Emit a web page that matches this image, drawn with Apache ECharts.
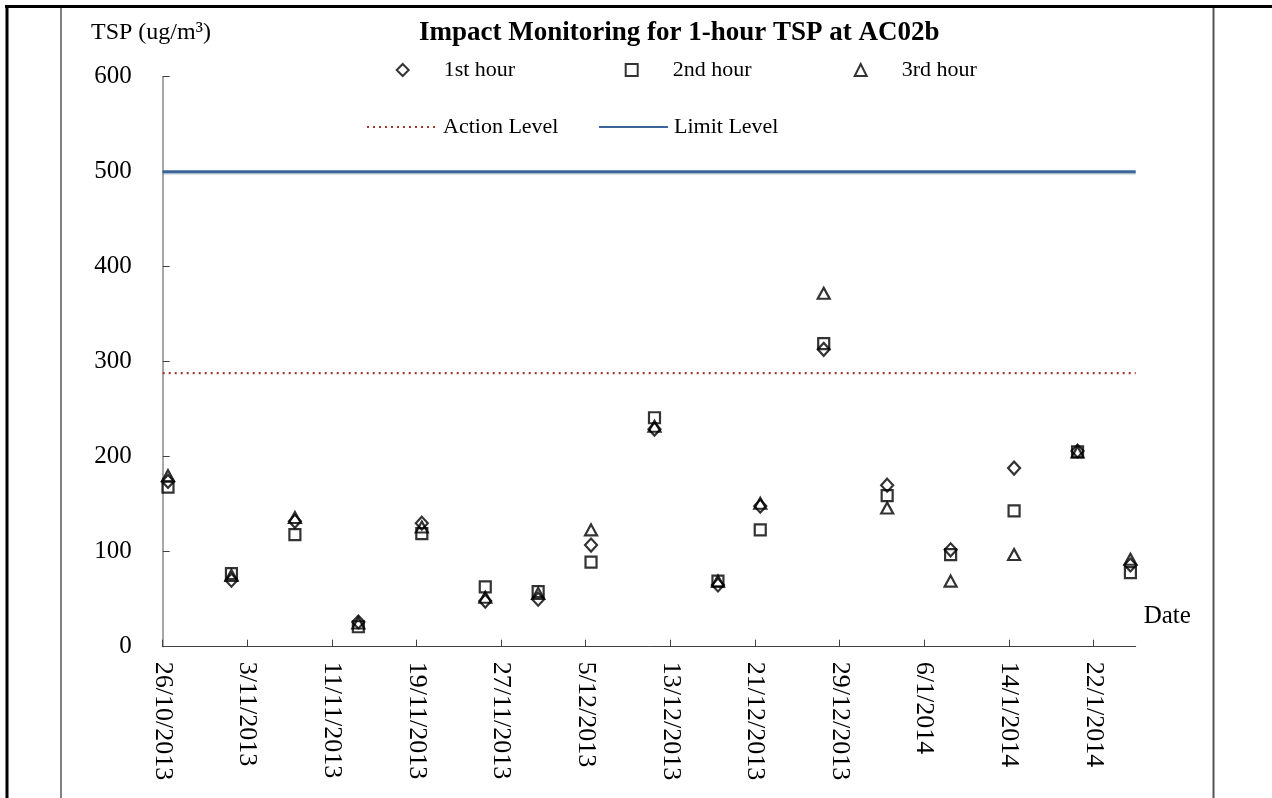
<!DOCTYPE html>
<html>
<head>
<meta charset="utf-8">
<script src="https://cdn.jsdelivr.net/npm/echarts@6/dist/echarts.min.js"></script>
<style>
html,body{margin:0;padding:0;background:#fff;}
#chart{width:1272px;height:798px;}
</style>
</head>
<body>
<div id="chart"></div>
<script>
// ---- data ----
const axisStartDate = '2013-10-26T00:00:00Z';
const axisEndDate = '2014-01-26T00:00:00Z';
const tickDates = ['2013-10-26','2013-11-03','2013-11-11','2013-11-19','2013-11-27','2013-12-05',
                   '2013-12-13','2013-12-21','2013-12-29','2014-01-06','2014-01-14','2014-01-22'];
const sampleDates = ['2013-10-26T12:00','2013-11-01T12:00','2013-11-07T12:00','2013-11-13T12:00',
                     '2013-11-19T12:00','2013-11-25T12:00','2013-11-30T12:00','2013-12-05T12:00',
                     '2013-12-11T12:00','2013-12-17T12:00','2013-12-21T12:00','2013-12-27T12:00',
                     '2014-01-02T12:00','2014-01-08T12:00','2014-01-14T12:00','2014-01-20T12:00',
                     '2014-01-25T12:00'];
const hour1 = [174, 70, 132, 26, 130, 48, 50, 107, 229, 65, 148, 313, 170, 102, 188, 206, 86];
const hour2 = [168, 77, 118, 21, 119, 63, 58, 89, 241, 69, 123, 319, 159, 97, 143, 205, 78];
const hour3 = [180, 75, 136, 25, 126, 52, 56, 123, 232, 69, 151, 372, 146, 69, 97, 205, 92];
const actionLevel = 288;
const limitLevel = 500;
const yTicks = [0, 100, 200, 300, 400, 500, 600];

// ---- helpers ----
const DAY = 86400000;
const t0 = Date.parse(axisStartDate);
const toDay = s => (Date.parse(s.length <= 10 ? s + 'T00:00:00Z' : s + (s.endsWith('Z') ? '' : ':00Z')) - t0) / DAY;
const xMax = toDay(axisEndDate);
const tickDays = tickDates.map(toDay);
const fmt = v => {
  const d = new Date(t0 + Math.round(v) * DAY);
  return d.getUTCDate() + '/' + (d.getUTCMonth() + 1) + '/' + d.getUTCFullYear();
};
const pts = arr => arr.map((v, i) => [toDay(sampleDates[i]), v]);

const FONT = "'Liberation Serif','Times New Roman',serif";

const chart = echarts.init(document.getElementById('chart'), null, {renderer: 'canvas'});
const legendText = {fontFamily: FONT, fontSize: 22, color: '#000', lineHeight: 24};
const markerStyle = {color: 'rgba(0,0,0,0)', borderColor: '#000', borderWidth: 2.2};

chart.setOption({
  animation: false,
  backgroundColor: '#fff',
  title: [
    {text: 'Impact Monitoring for 1-hour TSP at AC02b', left: 419, top: 20, padding: 0,
     textStyle: {fontFamily: FONT, fontSize: 27, fontWeight: 'bold', color: '#000'}},
    {text: 'TSP (ug/m³)', left: 91, top: 21, padding: 0,
     textStyle: {fontFamily: FONT, fontSize: 24, fontWeight: 'normal', color: '#000'}}
  ],
  legend: [
    {data: ['1st hour'], left: 395.7, top: 58, padding: 0, itemWidth: 12, itemHeight: 12,
     textStyle: Object.assign({padding: [0, 0, 0, 30]}, legendText)},
    {data: ['2nd hour'], left: 624.7, top: 58, padding: 0, itemWidth: 12, itemHeight: 12,
     textStyle: Object.assign({padding: [0, 0, 0, 30]}, legendText)},
    {data: ['3rd hour'], left: 853.7, top: 58, padding: 0, itemWidth: 12, itemHeight: 12,
     textStyle: Object.assign({padding: [0, 0, 0, 30]}, legendText)},
    {data: ['Action Level'], left: 366, top: 115, padding: 0, itemWidth: 69, itemHeight: 4,
     itemStyle: {color: 'rgba(0,0,0,0)', borderWidth: 0, opacity: 0},
     textStyle: Object.assign({padding: [0, 0, 0, 2]}, legendText)},
    {data: ['Limit Level'], left: 598, top: 115, padding: 0, itemWidth: 69, itemHeight: 4,
     itemStyle: {color: 'rgba(0,0,0,0)', borderWidth: 0, opacity: 0},
     textStyle: Object.assign({padding: [0, 0, 0, 1]}, legendText)}
  ],
  grid: {left: 162.7, right: 136.3, top: 76.7, bottom: 151.3, containLabel: false},
  xAxis: {
    type: 'value', min: 0, max: xMax, interval: 8,
    name: 'Date', nameLocation: 'end', nameGap: 8,
    nameTextStyle: {fontFamily: FONT, fontSize: 25, color: '#000', align: 'left', verticalAlign: 'bottom', padding: [0, 0, 18, 0]},
    axisLine: {show: true, onZero: false, lineStyle: {color: '#404040', width: 1}},
    axisTick: {show: true, inside: true, length: 7, lineStyle: {color: '#404040'}, customValues: tickDays},
    axisLabel: {rotate: -90, margin: 15, fontFamily: FONT, fontSize: 26, color: '#000',
                formatter: fmt, customValues: tickDays},
    splitLine: {show: false}
  },
  yAxis: {
    type: 'value', min: 0, max: 600, interval: 100,
    axisLine: {show: true, lineStyle: {color: '#8a8a8a', width: 1.5}},
    axisTick: {show: true, inside: true, length: 7, lineStyle: {color: '#404040'}},
    axisLabel: {margin: 31, fontFamily: FONT, fontSize: 25, color: '#000', customValues: yTicks},
    splitLine: {show: false}
  },
  series: [
    {name: 'Action Level', type: 'line', data: [[0, actionLevel], [xMax, actionLevel]], symbol: 'none',
     lineStyle: {color: '#a33a30', width: 2.2, type: [2, 4]}, itemStyle: {color: '#a33a30'}, z: 1, silent: true},
    {name: 'Limit Level', type: 'line', data: [[0, limitLevel], [xMax, limitLevel]], symbol: 'none',
     lineStyle: {color: '#3b6497', width: 3, shadowColor: 'rgba(59,100,151,0.25)', shadowOffsetY: 1.5, shadowBlur: 0},
     itemStyle: {color: '#3b6497'}, z: 1, silent: true},
    {name: '1st hour', type: 'scatter', data: pts(hour1), symbol: 'diamond', symbolSize: [12, 13], itemStyle: markerStyle, z: 3},
    {name: '2nd hour', type: 'scatter', data: pts(hour2), symbol: 'rect', symbolSize: 11, itemStyle: markerStyle, z: 3},
    {name: '3rd hour', type: 'scatter', data: pts(hour3), symbol: 'triangle', symbolSize: [12, 11], itemStyle: markerStyle, z: 3}
  ],
  graphic: [
    {type: 'line', shape: {x1: 5, y1: 6.5, x2: 1272, y2: 6.5}, style: {stroke: '#000', lineWidth: 3}, silent: true},
    {type: 'line', shape: {x1: 7, y1: 5, x2: 7, y2: 798}, style: {stroke: '#000', lineWidth: 3}, silent: true},
    {type: 'line', shape: {x1: 61, y1: 8, x2: 61, y2: 798}, style: {stroke: '#000', lineWidth: 1}, silent: true},
    {type: 'line', shape: {x1: 1213.5, y1: 8, x2: 1213.5, y2: 798}, style: {stroke: '#555', lineWidth: 2}, silent: true}
  ]
});
</script>
</body>
</html>
